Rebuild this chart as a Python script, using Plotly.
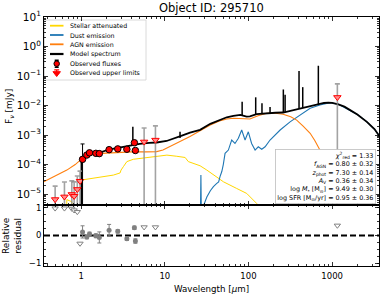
import numpy as np
import plotly.graph_objects as go

# ---------------- data ----------------
# observed detections
lam_det = [1.04, 1.17, 1.26, 1.50, 1.65, 2.16, 2.74, 3.52, 4.33, 4.45]
flux_det = [1.5e-4, 2.1e-4, 2.5e-4, 2.4e-4, 2.35e-4, 3.2e-4, 3.4e-4, 3.3e-4, 5.5e-4, 3.0e-4]
err_det = [3.5e-4, 2e-5, 2e-5, 2.5e-5, 4e-5, 5e-5, 2e-5, 2e-5, 4e-5, 3e-5]
res_det = [0.13, -0.05, 0.05, -0.01, -0.07, 0.19, 0.15, -0.12, 0.28, -0.20]
res_det_err = [0.22, 0.07, 0.07, 0.07, 0.20, 0.21, 0.06, 0.06, 0.06, 0.08]

# observed upper limits
lam_ul = [0.489, 0.632, 0.774, 0.825, 0.90, 0.97, 5.66, 7.73, 1154]
flux_ul = [6.6e-6, 8.1e-6, 9.8e-6, 8.5e-6, 1.45e-5, 2.75e-5, 5.9e-4, 6.8e-4, 0.019]
flux_ul_top = [1.86e-5, 2.57e-5, 2.8e-5, 2.6e-5, 4.1e-5, 6.0e-5, 1.74e-3, 2.04e-3, 0.054]
res_ul = [0.98, 0.98, 0.97, 0.91, 0.85, -0.29, 0.30, 0.30, 0.36]

# stellar attenuated component
lam_star = [0.66, 0.675, 0.72, 0.775, 0.78, 1.005, 1.012, 1.17, 1.4, 1.69, 2.0, 2.43, 2.92,
            3.0, 3.2, 3.52, 4.21, 6.09, 8.03, 10.6, 13.9, 17.5, 19.1, 22.0, 26.4, 31.8,
            38.1, 50.3, 72.3, 95.3, 125.5, 145]
flux_star = [1e-8, 6.5e-6, 6.0e-6, 5.5e-6, 1e-8, 1e-8, 3.0e-5, 3.2e-5, 3.6e-5, 3.9e-5, 4.1e-5,
             4.4e-5, 5.2e-5, 6.5e-5, 8.5e-5, 1.26e-4, 1.51e-4, 1.74e-4, 1.95e-4, 2.09e-4,
             1.91e-4, 1.74e-4, 1.26e-4, 1.10e-4, 9.1e-5, 6.5e-5, 4.4e-5, 2.6e-5, 1.55e-5,
             1.05e-5, 4.8e-6, 2.5e-6]

# dust emission component
lam_dust = [26.3, 27.0, 27.7, 29.0, 31.8, 35.0, 38.1, 41.8, 44.0, 45.7, 48.0, 50.0, 52.5,
            57.5, 63.0, 69.0, 75.7, 83.0, 91.0, 99.6, 109, 120, 131, 144, 158, 181, 239,
            314, 414, 546, 714, 944, 1186, 1640, 2000, 2600, 3200, 3700]
flux_dust = [1e-7, 4.4e-5, 1e-7, 4e-6, 8e-6, 1.3e-5, 1.8e-5, 2.3e-5, 2.6e-5, 3.9e-5, 5.8e-5,
             1.0e-4, 2.4e-4, 3.1e-4, 6.8e-4, 5.2e-4, 7.8e-4, 1.48e-3, 6.8e-4, 1.29e-3,
             5.2e-4, 3.1e-4, 4.0e-4, 3.3e-4, 4.0e-4, 6.8e-4, 1.48e-3, 2.8e-3, 4.8e-3,
             8.1e-3, 1.05e-2, 1.25e-2, 1.1e-2, 7.0e-3, 5.0e-3, 2.8e-3, 1.6e-3, 9.0e-4]

# AGN emission component
lam_agn = [0.355, 0.5, 0.675, 0.85, 1.0, 1.2, 1.5, 2.0, 3.0, 4.0, 6.0, 8.0, 9.5, 10.6, 13.0,
           15.2, 20.0, 26.4, 35.0, 45.0, 55.0, 66.0, 80.0, 95.0, 104, 130, 165, 210, 259,
           320, 377, 450, 546, 620, 714, 820, 940, 1050, 1150]
flux_agn = [2.6e-5, 4.2e-5, 6.5e-5, 1.0e-4, 1.5e-4, 2.0e-4, 2.3e-4, 2.45e-4, 2.6e-4, 2.7e-4,
            2.7e-4, 2.75e-4, 3.1e-4, 3.6e-4, 4.8e-4, 6.0e-4, 9.0e-4, 1.4e-3, 2.2e-3, 3.0e-3,
            3.5e-3, 3.7e-3, 3.6e-3, 3.4e-3, 3.5e-3, 4.5e-3, 5.45e-3, 5.5e-3, 5.1e-3, 4.2e-3,
            3.2e-3, 2.0e-3, 1.15e-3, 6.5e-4, 3.1e-4, 1.2e-4, 4e-5, 1.2e-5, 4e-6]

# total model spectrum (continuum)
lam_model = [0.36, 1.005, 1.01, 1.06, 1.2, 1.7, 2.2, 2.9, 3.8, 5.0, 6.5, 8.0, 10.5, 13.5, 16,
             20, 26.4, 35, 45, 55, 66, 80, 95, 104, 125, 165, 210, 259, 330, 415, 546, 655,
             800, 900, 1000, 1186, 1400, 1640, 2000, 2600, 3200, 3700]
flux_model = [1e-8, 1e-8, 1.65e-4, 1.75e-4, 2.4e-4, 2.6e-4, 3.3e-4, 3.8e-4, 4.5e-4, 5.0e-4,
              5.4e-4, 5.6e-4, 6.3e-4, 7.8e-4, 9.5e-4, 1.2e-3, 1.5e-3, 2.4e-3, 3.3e-3, 4.0e-3,
              4.5e-3, 4.8e-3, 4.2e-3, 4.3e-3, 5.1e-3, 5.5e-3, 5.7e-3, 5.8e-3, 6.8e-3, 8.1e-3,
              1.0e-2, 1.1e-2, 1.22e-2, 1.25e-2, 1.23e-2, 1.1e-2, 9.2e-3, 7.0e-3, 5.0e-3,
              2.8e-3, 1.6e-3, 9.0e-4]
# emission lines of the model spectrum: wavelength, continuum level, peak
line_lam = [4.15, 15.2, 84, 122, 145, 181, 261, 274, 402, 445, 684]
line_base = [4.6e-4, 8.0e-4, 4.7e-3, 5.0e-3, 5.3e-3, 5.6e-3, 5.8e-3, 5.9e-3, 8.0e-3, 8.5e-3, 1.12e-2]
line_peak = [1.9e-3, 1.3e-3, 1.35e-2, 1.9e-2, 1.2e-2, 9.0e-3, 3.5e-2, 2.3e-2, 0.148, 0.042, 0.223]

legend_labels = ["Stellar attenuated", "Dust emission", "AGN emission", "Model spectrum",
                 "Observed fluxes", "Observed upper limits"]
stats_lines = ["<i>χ</i><sup>2</sup><sub>red</sub> = 1.33",
               "<i>f</i><sub>AGN</sub> = 0.80 ± 0.32",
               "<i>z</i><sub>phot</sub> = 7.30 ± 0.14",
               "<i>A</i><sub>V</sub> = 0.36 ± 0.34",
               "log <i>M</i><sub>*</sub> [M<sub>⊙</sub>] = 9.49 ± 0.30",
               "log SFR [M<sub>⊙</sub>/yr] = 0.95 ± 0.36"]
title_text = "Object ID: 295710"
x_ticks = [1, 10, 100, 1000]
y_ticks_exp = [-5, -4, -3, -2, -1, 0, 1]

# ---------------- styling ----------------
W, H = 383, 297
FONT = "DejaVu Sans"
C_STAR, C_DUST, C_AGN = "#FFD700", "#1f77b4", "#ff7f0e"
L, R, T, MB, B = 44, 379, 17, 205, 266   # pixel frame


def px(v):
    return v / W


def py(v):
    return 1 - v / H


fig = go.Figure()

# components
fig.add_trace(go.Scatter(x=lam_star, y=flux_star, mode="lines",
                         line=dict(color=C_STAR, width=1.0), xaxis="x", yaxis="y"))
fig.add_trace(go.Scatter(x=lam_dust, y=flux_dust, mode="lines",
                         line=dict(color=C_DUST, width=1.1), xaxis="x", yaxis="y"))
fig.add_trace(go.Scatter(x=lam_agn, y=flux_agn, mode="lines",
                         line=dict(color=C_AGN, width=1.1), xaxis="x", yaxis="y"))
fig.add_trace(go.Scatter(x=lam_model, y=flux_model, mode="lines",
                         line=dict(color="black", width=1.8), xaxis="x", yaxis="y"))
lx, ly = [], []
for l, b0, p0 in zip(line_lam, line_base, line_peak):
    lx += [l, l, None]
    ly += [b0, p0, None]
fig.add_trace(go.Scatter(x=lx, y=ly, mode="lines", line=dict(color="black", width=1.5),
                         xaxis="x", yaxis="y"))

# upper limits
fig.add_trace(go.Scatter(
    x=lam_ul, y=flux_ul, mode="markers", xaxis="x", yaxis="y",
    marker=dict(symbol="triangle-down", size=6.5, color="#ff8c8c", line=dict(color="red", width=1)),
    error_y=dict(type="data", symmetric=False,
                 array=[t - f for t, f in zip(flux_ul_top, flux_ul)],
                 arrayminus=flux_ul, color="rgba(140,140,140,0.8)", thickness=1.6, width=2.5)))
# detections
fig.add_trace(go.Scatter(
    x=lam_det, y=flux_det, mode="markers", xaxis="x", yaxis="y",
    marker=dict(symbol="circle", size=6.5, color="red", line=dict(color="black", width=1)),
    error_y=dict(type="data", array=err_det, color="black", thickness=1, width=2)))

# residuals
fig.add_trace(go.Scatter(
    x=lam_det, y=res_det, mode="markers", xaxis="x2", yaxis="y2",
    marker=dict(symbol="circle", size=5, color="#808080"),
    error_y=dict(type="data", array=res_det_err, color="#808080", thickness=1, width=2)))
fig.add_trace(go.Scatter(
    x=lam_ul, y=res_ul, mode="markers", xaxis="x2", yaxis="y2",
    marker=dict(symbol="triangle-down", size=5.5, color="white", line=dict(color="#808080", width=1))))

# ---- legend glyphs on a pixel overlay axis ----
rows = [25.7, 35.0, 44.3, 54.0, 63.7, 73.3]
line_cols = [C_STAR, C_DUST, C_AGN, "black"]
line_w = [1.8, 1.8, 1.8, 2.2]
for i in range(4):
    fig.add_trace(go.Scatter(x=[50, 63.5], y=[rows[i], rows[i]], mode="lines",
                             line=dict(color=line_cols[i], width=line_w[i]),
                             xaxis="x3", yaxis="y3"))
fig.add_trace(go.Scatter(x=[56.7], y=[rows[4]], mode="markers", xaxis="x3", yaxis="y3",
                         marker=dict(symbol="circle", size=5.5, color="red",
                                     line=dict(color="black", width=1)),
                         error_y=dict(type="data", array=[3.5], color="black", thickness=1.5, width=2)))
fig.add_trace(go.Scatter(x=[56.7], y=[rows[5]], mode="markers", xaxis="x3", yaxis="y3",
                         marker=dict(symbol="triangle-down", size=6.5, color="red",
                                     line=dict(color="red", width=1)),
                         error_y=dict(type="data", symmetric=False, array=[0], arrayminus=[3.5],
                                      color="red", thickness=1.2, width=2.5)))

annotations = []
for i, lab in enumerate(legend_labels):
    annotations.append(dict(x=px(68), y=py(rows[i]), xref="paper", yref="paper",
                            text=lab, showarrow=False, xanchor="left", yanchor="middle",
                            font=dict(family=FONT, size=6.3, color="black")))

# title and axis titles
annotations.append(dict(x=px((L + R) / 2), y=py(8), xref="paper", yref="paper", text=title_text,
                        showarrow=False, xanchor="center", yanchor="middle",
                        font=dict(family=FONT, size=11.5, color="black")))
annotations.append(dict(x=px((L + R) / 2), y=py(288.5), xref="paper", yref="paper",
                        text="Wavelength [<i>μ</i>m]", showarrow=False, xanchor="center",
                        yanchor="middle", font=dict(family=FONT, size=8.7, color="black")))
annotations.append(dict(x=px(9), y=py(107), xref="paper", yref="paper",
                        text="F<sub><i>ν</i></sub> [mJy]", showarrow=False, textangle=-90,
                        xanchor="center", yanchor="middle",
                        font=dict(family=FONT, size=9, color="black")))
annotations.append(dict(x=px(12), y=py(235), xref="paper", yref="paper",
                        text="Relative<br>residual", showarrow=False, textangle=-90,
                        xanchor="center", yanchor="middle",
                        font=dict(family=FONT, size=9, color="black")))
# stats box
annotations.append(dict(x=px(376), y=py(203.5), xref="paper", yref="paper",
                        text="<br>".join(stats_lines), showarrow=False, align="right",
                        xanchor="right", yanchor="bottom", bgcolor="white",
                        bordercolor="#bdbdbd", borderwidth=0.8, borderpad=1.5,
                        font=dict(family=FONT, size=6.4, color="black")))

shapes = [
    dict(type="rect", xref="paper", yref="paper", x0=px(44.5), x1=px(146), y0=py(20), y1=py(80),
         line=dict(color="#d0d0d0", width=0.8), fillcolor="white", layer="below"),
    dict(type="line", xref="paper", yref="y2", x0=px(L), x1=px(R), y0=0, y1=0,
         line=dict(color="black", width=1.8, dash="6px,3px"), layer="below"),
]

minor_x = [m * 10 ** e for e in range(-1, 4) for m in range(2, 10)
           if 0.36 <= m * 10 ** e <= 3630]
minor_y = [m * 10 ** e for e in range(-6, 1) for m in range(2, 10)]

xr = [np.log10(0.36), np.log10(3630)]
ax_common = dict(showline=True, linecolor="black", linewidth=1, mirror="allticks",
                 ticks="inside", ticklen=4, tickwidth=0.8, tickcolor="black",
                 showgrid=False, zeroline=False)

fig.update_layout(
    width=W, height=H, margin=dict(l=0, r=0, t=0, b=0), autosize=False,
    paper_bgcolor="white", plot_bgcolor="rgba(0,0,0,0)", showlegend=False,
    font=dict(family=FONT, color="black"),
    xaxis=dict(type="log", range=xr, domain=[px(L), px(R)], anchor="y",
               tickvals=x_ticks, showticklabels=False,
               minor=dict(ticks="inside", ticklen=2, tickvals=minor_x, tickcolor="black"),
               **ax_common),
    yaxis=dict(type="log", range=[-5.37, 1], domain=[py(MB), py(T)], anchor="x",
               tickvals=[10.0 ** e for e in y_ticks_exp],
               ticktext=["10<sup>%s</sup>" % (str(e).replace("-", "−")) for e in y_ticks_exp],
               tickfont=dict(size=10.5), automargin=False,
               minor=dict(ticks="inside", ticklen=2, tickvals=minor_y, tickcolor="black"),
               **ax_common),
    xaxis2=dict(type="log", range=xr, domain=[px(L), px(R)], anchor="y2",
                tickvals=x_ticks, ticktext=[str(v) for v in x_ticks],
                tickfont=dict(size=8.5), ticklabelstandoff=2, automargin=False,
                minor=dict(ticks="inside", ticklen=2, tickvals=minor_x, tickcolor="black"),
                **ax_common),
    yaxis2=dict(range=[-1.1, 1.1], domain=[py(B), py(MB)], anchor="x2",
                tickvals=[-1, 0, 1], ticktext=["−1", "0", "1"], tickfont=dict(size=8.5),
                automargin=False,
                minor=dict(ticks="inside", ticklen=2, dtick=0.25, tickcolor="black"),
                **ax_common),
    xaxis3=dict(range=[0, W], domain=[0, 1], anchor="y3", visible=False, fixedrange=True),
    yaxis3=dict(range=[H, 0], domain=[0, 1], anchor="x3", visible=False, fixedrange=True),
    annotations=annotations, shapes=shapes,
)

post = ("document.body.style.margin='0';document.body.style.padding='0';"
        "var d=document.getElementById('{plot_id}');d.style.position='absolute';"
        "d.style.left='0px';d.style.top='0px';")
fig.write_html("out.html", post_script=post,
               config={"displayModeBar": False, "staticPlot": True})
